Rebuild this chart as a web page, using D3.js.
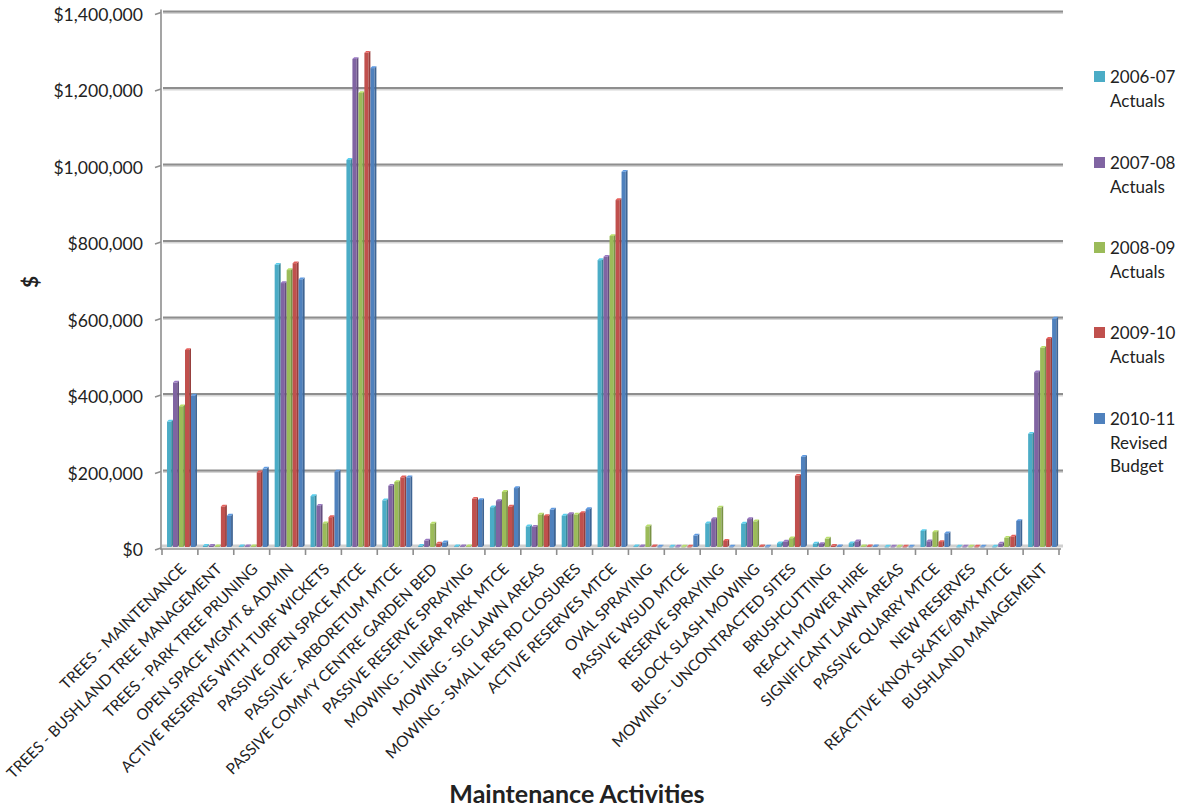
<!DOCTYPE html>
<html>
<head>
<meta charset="utf-8">
<script src="https://cdn.jsdelivr.net/npm/d3@7"></script>
<style>
  html, body { margin: 0; padding: 0; background: #ffffff; }
  svg { display: block; font-family: Lato, "Liberation Sans", sans-serif; }
</style>
</head>
<body>
<svg id="chart" width="1180" height="808"></svg>
<script>
// Maintenance activity cost categories (x axis)
const categories = [
  "TREES - MAINTENANCE",
  "TREES - BUSHLAND TREE MANAGEMENT",
  "TREES - PARK TREE PRUNING",
  "OPEN SPACE MGMT & ADMIN",
  "ACTIVE RESERVES WITH TURF WICKETS",
  "PASSIVE OPEN SPACE MTCE",
  "PASSIVE - ARBORETUM MTCE",
  "PASSIVE COMM'Y CENTRE GARDEN BED",
  "PASSIVE RESERVE SPRAYING",
  "MOWING - LINEAR PARK MTCE",
  "MOWING - SIG LAWN AREAS",
  "MOWING - SMALL RES RD CLOSURES",
  "ACTIVE RESERVES MTCE",
  "OVAL SPRAYING",
  "PASSIVE WSUD MTCE",
  "RESERVE SPRAYING",
  "BLOCK SLASH MOWING",
  "MOWING - UNCONTRACTED SITES",
  "BRUSHCUTTING",
  "REACH MOWER HIRE",
  "SIGNIFICANT LAWN AREAS",
  "PASSIVE QUARRY MTCE",
  "NEW RESERVES",
  "REACTIVE KNOX SKATE/BMX MTCE",
  "BUSHLAND MANAGEMENT"
];

// Spend per category, one array per financial year ($)
const actuals2006_07 = [328000, 3000, 2000, 738000, 133000, 1012000, 122000, 3000, 2000, 104000, 54000, 82000, 750000, 2000, 1000, 62000, 61000, 10000, 9000, 10000, 1000, 42000, 1000, 1000, 296000];
const actuals2007_08 = [430000, 3000, 2000, 690000, 108000, 1276000, 160000, 17000, 2000, 120000, 53000, 86000, 759000, 2000, 1000, 73000, 73000, 14000, 8000, 15000, 1000, 15000, 1000, 9000, 457000];
const actuals2008_09 = [368000, 2000, 2000, 724000, 62000, 1187000, 170000, 61000, 2000, 144000, 85000, 85000, 813000, 54000, 1000, 103000, 67000, 23000, 22000, 2000, 1000, 39000, 1000, 24000, 521000];
const actuals2009_10 = [515000, 106000, 195000, 742000, 78000, 1292000, 182000, 9000, 126000, 106000, 81000, 89000, 907000, 2000, 1000, 16000, 2000, 186000, 3000, 2000, 1000, 13000, 1000, 27000, 544000];
const budget2010_11 = [396000, 82000, 205000, 700000, 197000, 1252000, 182000, 12000, 123000, 154000, 98000, 99000, 981000, 1000, 30000, 1000, 1000, 236000, 2000, 2000, 1000, 36000, 1000, 68000, 597000];

// Series names (legend lines) and colours
const seriesLabels = [
  ["2006-07", "Actuals"],
  ["2007-08", "Actuals"],
  ["2008-09", "Actuals"],
  ["2009-10", "Actuals"],
  ["2010-11", "Revised", "Budget"]
];
const seriesColors = ["#4BACC6", "#8064A2", "#9BBB59", "#C0504D", "#4F81BD"];
const seriesValues = [actuals2006_07, actuals2007_08, actuals2008_09, actuals2009_10, budget2010_11];

// Y axis ticks
const yTicks = [0, 200000, 400000, 600000, 800000, 1000000, 1200000, 1400000];

const svg = d3.select("#chart");

const plot = { left: 162, right: 1059, top: 11.5, bottom: 547 };

const x = d3.scaleBand().domain(categories).range([plot.left, plot.right]).padding(0);
const xs = d3.scaleBand()
  .domain(d3.range(seriesValues.length))
  .range([x.bandwidth() * 0.14, x.bandwidth() * 0.975])
  .padding(0);
const y = d3.scaleLinear().domain([0, 1400000]).range([plot.bottom, plot.top]);

const fmt = v => "$" + d3.format(",")(v);

// Back-wall gridlines (soft shadow under a grey rule)
const grid = svg.append("g");
grid.selectAll("line.shadow").data(yTicks.slice(1)).join("line")
  .attr("class", "shadow")
  .attr("x1", plot.left + 1).attr("x2", plot.right + 4)
  .attr("y1", d => y(d) + 1).attr("y2", d => y(d) + 1)
  .attr("stroke", "#d6d6d6").attr("stroke-width", 3);
grid.selectAll("line.rule").data(yTicks.slice(1)).join("line")
  .attr("class", "rule")
  .attr("x1", plot.left + 1).attr("x2", plot.right + 4)
  .attr("y1", d => y(d)).attr("y2", d => y(d))
  .attr("stroke", "#8e8e8e").attr("stroke-width", 1.8);

// Floor
svg.append("line")
  .attr("x1", plot.left).attr("x2", plot.right + 4)
  .attr("y1", y(0) - 1).attr("y2", y(0) - 1)
  .attr("stroke", "#d0d0d0").attr("stroke-width", 3);
svg.append("line")
  .attr("x1", plot.left - 1).attr("x2", plot.right + 2)
  .attr("y1", y(0) + 2).attr("y2", y(0) + 2)
  .attr("stroke", "#8e8e8e").attr("stroke-width", 1.6);

// Vertical axis with left ticks
const yAxisG = svg.append("g");
yAxisG.append("line")
  .attr("x1", plot.left - 1).attr("x2", plot.left - 1)
  .attr("y1", y(1400000) - 2).attr("y2", y(0) + 3)
  .attr("stroke", "#8e8e8e").attr("stroke-width", 1.6);
yAxisG.selectAll("line.tick").data(yTicks).join("line")
  .attr("class", "tick")
  .attr("x1", plot.left - 7).attr("x2", plot.left - 1)
  .attr("y1", d => y(d) + 3).attr("y2", d => y(d) + 1)
  .attr("stroke", "#8e8e8e").attr("stroke-width", 1.6);
yAxisG.selectAll("text").data(yTicks).join("text")
  .attr("x", 143)
  .attr("y", d => y(d) + 3)
  .attr("dy", "0.35em")
  .attr("text-anchor", "end")
  .attr("font-size", 17.6)
  .attr("fill", "#222")
  .text(fmt);

// Category ticks under the floor
svg.append("g").selectAll("line")
  .data(categories.concat(["__end"]))
  .join("line")
  .attr("x1", (d, i) => plot.left + i * x.bandwidth())
  .attr("x2", (d, i) => plot.left + i * x.bandwidth())
  .attr("y1", y(0) + 2).attr("y2", y(0) + 8)
  .attr("stroke", "#8e8e8e").attr("stroke-width", 1.6);

// Columns with a narrow shaded side and top for a shallow 3-D look
const depth = 1.8;
const bars = [];
seriesValues.forEach((vals, s) => {
  vals.forEach((v, i) => bars.push({ s, cat: categories[i], v }));
});
const barG = svg.append("g");
const colG = barG.selectAll("g.col").data(bars).join("g").attr("class", "col");
colG.each(function (d) {
  const g = d3.select(this);
  const x0 = x(d.cat) + xs(d.s);
  const w = xs.bandwidth() - depth;
  const yt = y(d.v);
  const yb = y(0);
  const c = d3.color(seriesColors[d.s]);
  // front face
  g.append("rect")
    .attr("x", x0).attr("y", yt)
    .attr("width", w).attr("height", Math.max(0.8, yb - yt))
    .attr("fill", c.formatHex());
  // side face
  g.append("path")
    .attr("d", `M${x0 + w},${yt} L${x0 + w + depth},${yt - depth} L${x0 + w + depth},${yb - depth} L${x0 + w},${yb} Z`)
    .attr("fill", c.darker(0.7).formatHex());
  // top face
  g.append("path")
    .attr("d", `M${x0},${yt} L${x0 + depth},${yt - depth} L${x0 + w + depth},${yt - depth} L${x0 + w},${yt} Z`)
    .attr("fill", c.brighter(0.5).formatHex());
});

// Rotated category labels
svg.append("g").selectAll("text").data(categories).join("text")
  .attr("transform", d => `translate(${x(d) + x.bandwidth() / 2 + 1},${y(0) + 17}) rotate(-45)`)
  .attr("text-anchor", "end")
  .attr("dy", "0.55em")
  .attr("font-size", 15.4)
  .attr("fill", "#222")
  .text(d => d);

// Axis titles
svg.append("text")
  .attr("x", 577).attr("y", 803)
  .attr("text-anchor", "middle")
  .attr("font-size", 25).attr("font-weight", "bold")
  .attr("fill", "#222")
  .text("Maintenance Activities");
svg.append("text")
  .attr("transform", "translate(38,282) rotate(-90)")
  .attr("text-anchor", "middle")
  .attr("font-size", 21).attr("font-weight", "bold")
  .attr("fill", "#222")
  .text("$");

// Legend
const legendTop = [71, 157, 242, 327, 413];
const legend = svg.append("g").selectAll("g").data(seriesLabels).join("g")
  .attr("transform", (d, i) => `translate(1094,${legendTop[i]})`);
legend.append("rect")
  .attr("width", 11).attr("height", 11)
  .attr("fill", (d, i) => seriesColors[i]);
legend.each(function (lines) {
  const g = d3.select(this);
  lines.forEach((t, j) => {
    g.append("text")
      .attr("x", 16).attr("y", 12 + j * 23.5)
      .attr("font-size", 17)
      .attr("fill", "#222")
      .text(t);
  });
});
</script>
</body>
</html>
